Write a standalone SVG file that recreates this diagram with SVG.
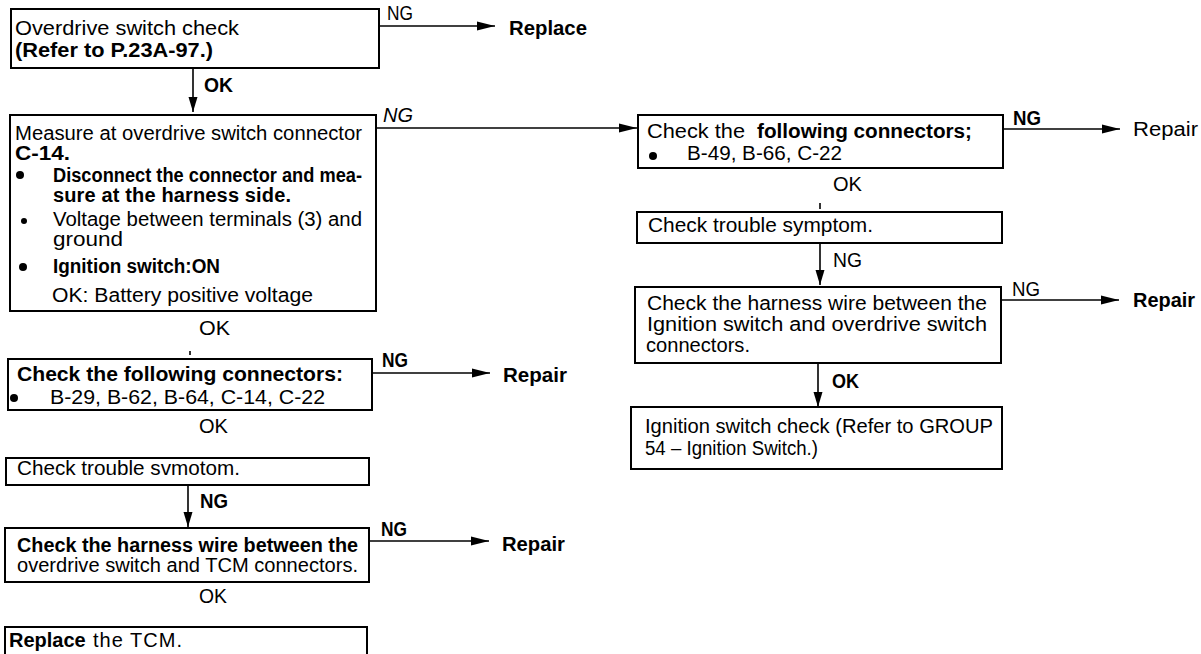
<svg xmlns="http://www.w3.org/2000/svg" width="1201" height="654" viewBox="0 0 1201 654">
<style>
.box{fill:none;stroke:#000;stroke-width:2}
.t{font-family:"Liberation Sans",Arial,Helvetica,sans-serif;font-size:20px;fill:#000}
.b{font-weight:bold}
.i{font-style:italic}
.ln{stroke:#000;stroke-width:1.6;fill:none}
.dot{fill:#000}
</style>
<defs>
<marker id="ah" viewBox="0 0 18 10" refX="18" refY="5" markerWidth="18" markerHeight="10" markerUnits="userSpaceOnUse" orient="auto">
<path d="M0,0.5 L18,5 L0,9.5 Z" fill="#000"/>
</marker>
<marker id="av" viewBox="0 0 15 10" refX="15" refY="5" markerWidth="15" markerHeight="10" markerUnits="userSpaceOnUse" orient="auto">
<path d="M0,0.5 L15,5 L0,9.5 Z" fill="#000"/>
</marker>
</defs>
<rect width="1201" height="654" fill="#fff"/>

<g id="connectors">
<path class="ln" d="M379,26 H495" marker-end="url(#ah)"/>
<text class="t" x="387" y="20" textLength="26" lengthAdjust="spacingAndGlyphs">NG</text>
<path class="ln" d="M193,68 V112" marker-end="url(#av)"/>
<text class="t b" x="204" y="92" textLength="29" lengthAdjust="spacingAndGlyphs">OK</text>
<path class="ln" d="M376,128 H637" marker-end="url(#ah)"/>
<text class="t i" x="383" y="122" textLength="30" lengthAdjust="spacingAndGlyphs">NG</text>
<text class="t" x="199" y="335" textLength="31" lengthAdjust="spacingAndGlyphs">OK</text>
<path class="ln" d="M190,351 V355"/>
<path class="ln" d="M372,373 H490" marker-end="url(#ah)"/>
<text class="t b" x="382" y="367" textLength="26" lengthAdjust="spacingAndGlyphs">NG</text>
<text class="t" x="199" y="433" textLength="29" lengthAdjust="spacingAndGlyphs">OK</text>
<path class="ln" d="M188,485 V527" marker-end="url(#av)"/>
<text class="t b" x="200" y="508" textLength="28" lengthAdjust="spacingAndGlyphs">NG</text>
<path class="ln" d="M369,541 H489" marker-end="url(#ah)"/>
<text class="t b" x="381" y="536" textLength="26" lengthAdjust="spacingAndGlyphs">NG</text>
<text class="t" x="199" y="603" textLength="28" lengthAdjust="spacingAndGlyphs">OK</text>
<path class="ln" d="M1003,129 H1120" marker-end="url(#ah)"/>
<text class="t b" x="1013" y="125" textLength="28" lengthAdjust="spacingAndGlyphs">NG</text>
<text class="t" x="833" y="191" textLength="29" lengthAdjust="spacingAndGlyphs">OK</text>
<path class="ln" d="M820,203 V209"/>
<path class="ln" d="M820,243 V285" marker-end="url(#av)"/>
<text class="t" x="833" y="267" textLength="29" lengthAdjust="spacingAndGlyphs">NG</text>
<path class="ln" d="M1001,300 H1119" marker-end="url(#ah)"/>
<text class="t" x="1012" y="296" textLength="28" lengthAdjust="spacingAndGlyphs">NG</text>
<path class="ln" d="M818,363 V407" marker-end="url(#av)"/>
<text class="t b" x="832" y="388" textLength="27" lengthAdjust="spacingAndGlyphs">OK</text>
</g>

<g id="n1">
<rect class="box" x="11" y="9" width="368" height="59"/>
<text class="t" x="15" y="35" textLength="224" lengthAdjust="spacingAndGlyphs">Overdrive switch check</text>
<text class="t b" x="15" y="57" textLength="198" lengthAdjust="spacingAndGlyphs">(Refer to P.23A-97.)</text>
</g>

<g id="replace1">
<text class="t b" x="509" y="35" textLength="78" lengthAdjust="spacingAndGlyphs">Replace</text>
</g>

<g id="n2">
<rect class="box" x="10" y="115" width="366" height="196"/>
<text class="t" x="15" y="140" textLength="347" lengthAdjust="spacingAndGlyphs">Measure at overdrive switch connector</text>
<text class="t b" x="15" y="160" textLength="55" lengthAdjust="spacingAndGlyphs">C-14.</text>
<circle class="dot" cx="20" cy="175" r="4"/>
<text class="t b" x="53" y="182" textLength="309" lengthAdjust="spacingAndGlyphs">Disconnect the connector and mea-</text>
<text class="t b" x="53" y="202" textLength="238" lengthAdjust="spacing">sure at the harness side.</text>
<circle class="dot" cx="24" cy="221" r="3"/>
<text class="t" x="53" y="226" textLength="309" lengthAdjust="spacingAndGlyphs">Voltage between terminals (3) and</text>
<text class="t" x="53" y="246" textLength="70" lengthAdjust="spacingAndGlyphs">ground</text>
<circle class="dot" cx="23" cy="267" r="4"/>
<text class="t b" x="53" y="273" textLength="167" lengthAdjust="spacingAndGlyphs">Ignition switch:ON</text>
<text class="t" x="52" y="302" textLength="261" lengthAdjust="spacingAndGlyphs">OK: Battery positive voltage</text>
</g>

<g id="n3">
<rect class="box" x="8" y="359" width="364" height="51"/>
<text class="t b" x="17" y="381" textLength="326" lengthAdjust="spacingAndGlyphs">Check the following connectors:</text>
<circle class="dot" cx="14" cy="398" r="4"/>
<text class="t" x="50" y="404" textLength="275" lengthAdjust="spacingAndGlyphs">B-29, B-62, B-64, C-14, C-22</text>
</g>

<g id="repair1">
<text class="t b" x="503" y="382" textLength="64" lengthAdjust="spacingAndGlyphs">Repair</text>
</g>

<g id="n4">
<rect class="box" x="6" y="458" width="363" height="27"/>
<text class="t" x="17" y="475" textLength="223" lengthAdjust="spacingAndGlyphs">Check trouble svmotom.</text>
</g>

<g id="n5">
<rect class="box" x="5" y="528" width="364" height="54"/>
<text class="t b" x="17" y="552" textLength="341" lengthAdjust="spacingAndGlyphs">Check the harness wire between the</text>
<text class="t" x="17" y="572" textLength="341" lengthAdjust="spacingAndGlyphs">overdrive switch and TCM connectors.</text>
</g>

<g id="repair2">
<text class="t b" x="502" y="551" textLength="63" lengthAdjust="spacingAndGlyphs">Repair</text>
</g>

<g id="n6">
<rect class="box" x="5" y="627" width="362" height="40"/>
<text class="t b" x="9" y="647">Replace</text>
<text class="t" x="93" y="647" textLength="89" lengthAdjust="spacing">the TCM.</text>
</g>

<g id="n7">
<rect class="box" x="638" y="115" width="365" height="53"/>
<text class="t" x="647" y="138" textLength="98" lengthAdjust="spacingAndGlyphs">Check the</text>
<text class="t b" x="757" y="138" textLength="215" lengthAdjust="spacingAndGlyphs">following connectors;</text>
<circle class="dot" cx="653" cy="156" r="4"/>
<text class="t" x="687" y="160" textLength="155" lengthAdjust="spacingAndGlyphs">B-49, B-66, C-22</text>
</g>

<g id="repair3">
<text class="t" x="1133" y="136" textLength="65" lengthAdjust="spacingAndGlyphs">Repair</text>
</g>

<g id="n8">
<rect class="box" x="637" y="212" width="365" height="31"/>
<text class="t" x="648" y="232" textLength="225" lengthAdjust="spacingAndGlyphs">Check trouble symptom.</text>
</g>

<g id="n9">
<rect class="box" x="635" y="287" width="366" height="76"/>
<text class="t" x="647" y="310" textLength="340" lengthAdjust="spacingAndGlyphs">Check the harness wire between the</text>
<text class="t" x="647" y="331" textLength="340" lengthAdjust="spacingAndGlyphs">Ignition switch and overdrive switch</text>
<text class="t" x="646" y="352" textLength="104" lengthAdjust="spacingAndGlyphs">connectors.</text>
</g>

<g id="repair4">
<text class="t b" x="1133" y="307" textLength="62" lengthAdjust="spacingAndGlyphs">Repair</text>
</g>

<g id="n10">
<rect class="box" x="631" y="407" width="371" height="62"/>
<text class="t" x="645" y="433" textLength="348" lengthAdjust="spacingAndGlyphs">Ignition switch check (Refer to GROUP</text>
<text class="t" x="645" y="455" textLength="173" lengthAdjust="spacingAndGlyphs">54 – Ignition Switch.)</text>
</g>
</svg>
